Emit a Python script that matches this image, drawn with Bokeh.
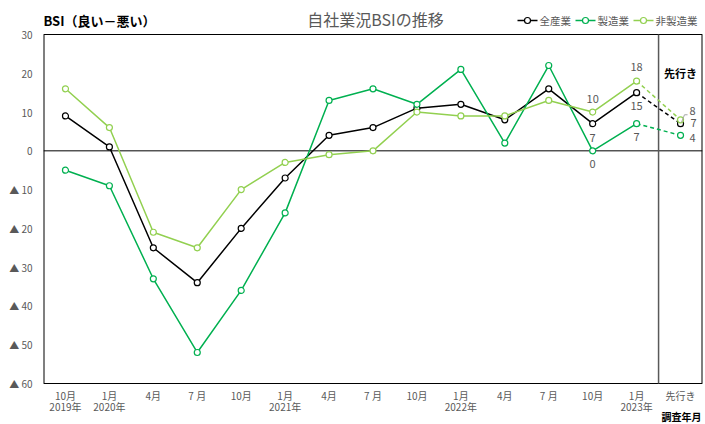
from bokeh.plotting import figure
from bokeh.models import Range1d, FixedTicker, Label, ColumnDataSource
from bokeh.core.properties import value
from bokeh.embed import file_html
from bokeh.resources import INLINE

# Survey periods (month line / year line)
months = ["10月", "1月", "4月", "7 月", "10月", "1月", "4月", "7 月",
          "10月", "1月", "4月", "7 月", "10月", "1月", "先行き"]
years = ["2019年", "2020年", "", "", "", "2021年", "", "",
         "", "2022年", "", "", "", "2023年", ""]

# BSI values (good minus bad)
all_ind = [9, 1, -25, -34, -20, -7, 4, 6, 11, 12, 8, 16, 7, 15, 7]
mfg = [-5, -9, -33, -52, -36, -16, 13, 16, 12, 21, 2, 22, 0, 7, 4]
non_mfg = [16, 6, -21, -25, -10, -3, -1, 0, 10, 9, 9, 13, 10, 18, 8]

y_ticks = [30, 20, 10, 0, -10, -20, -30, -40, -50, -60]
Y_MIN, Y_MAX = -60, 30

names = ["全産業", "製造業", "非製造業"]
colors = ["#000000", "#00b050", "#92d050"]
series = [all_ind, mfg, non_mfg]

FONT = "Noto Sans CJK JP"
GRAY = "#595959"

W, H = 705, 424
LEFT, RIGHT_PAD = 43, 3
PLOT_TOP, PLOT_BOTTOM = 34, 383        # canvas rows of the value axis ends
k = (Y_MAX - Y_MIN) / (PLOT_BOTTOM - PLOT_TOP)

n = len(months)
xs = list(range(n))
last = n - 1

# The frame spans the full canvas height so that heading, legend and the
# period labels are all drawn inside it; the value range is stretched so that
# 30 and -60 land on PLOT_TOP and PLOT_BOTTOM.
p = figure(width=W, height=H, output_backend="svg", toolbar_location=None,
           x_range=Range1d(-0.5, n - 0.5),
           y_range=Range1d(Y_MIN - (H - PLOT_BOTTOM) * k, Y_MAX + PLOT_TOP * k),
           min_border_left=LEFT, min_border_right=RIGHT_PAD, min_border_top=0,
           min_border_bottom=0)
p.grid.visible = False
p.outline_line_color = None
p.xaxis.visible = False

# pixel rows (canvas y measured from the bottom)
p.extra_x_ranges = {"px": Range1d(LEFT, W - RIGHT_PAD)}
p.extra_y_ranges = {"px": Range1d(0, H)}

def px_y(canvas_y):
    return H - canvas_y

# value axis
p.yaxis.ticker = FixedTicker(ticks=y_ticks)
p.yaxis.major_label_overrides = {t: (str(t) if t >= 0 else "▲ " + str(-t)) for t in y_ticks}
p.yaxis.axis_line_color = None
p.yaxis.major_tick_line_color = None
p.yaxis.minor_tick_line_color = None
p.yaxis.major_label_text_font = FONT
p.yaxis.major_label_text_font_size = "10px"
p.yaxis.major_label_text_color = GRAY
p.yaxis.major_label_standoff = 5

# period labels: month row and year row
p.text(x=xs, y=[px_y(395)] * n, text=months, text_font=value(FONT),
       text_font_size="10px", text_color=GRAY, text_align="center",
       text_baseline="middle", y_range_name="px")
yr_x = [i for i, yr in enumerate(years) if yr]
p.text(x=yr_x, y=[px_y(406)] * len(yr_x), text=[years[i] for i in yr_x],
       text_font=value(FONT), text_font_size="10px", text_color=GRAY,
       text_align="center", text_baseline="middle", y_range_name="px")

# plot border: left/right on the frame boundary, top/bottom inside it
p.multi_line(xs=[[-0.5, -0.5], [n - 0.5, n - 0.5]], ys=[[Y_MIN, Y_MAX], [Y_MIN, Y_MAX]],
             line_color="#000000", line_width=2)
p.multi_line(xs=[[-0.5, n - 0.5], [-0.5, n - 0.5]], ys=[[Y_MAX, Y_MAX], [Y_MIN, Y_MIN]],
             line_color="#000000", line_width=1)

# zero line and the forecast divider
p.line(x=[-0.5, n - 0.5], y=[0, 0], line_color="#000000", line_width=1)
p.line(x=[last - 0.5, last - 0.5], y=[Y_MIN, Y_MAX], line_color=GRAY, line_width=1.5)

for name, col, vals in zip(names, colors, series):
    actual = ColumnDataSource(dict(x=xs[:last], y=vals[:last]))
    fc = ColumnDataSource(dict(x=xs[last - 1:], y=vals[last - 1:]))
    p.line("x", "y", source=actual, line_color=col, line_width=1.5)
    p.line("x", "y", source=fc, line_color=col, line_width=1.5, line_dash="4 3")
    p.scatter("x", "y", source=ColumnDataSource(dict(x=xs, y=vals)), size=6,
              marker="circle", fill_color="white", line_color=col, line_width=1.2)

# value labels for the latest periods
def vlabel(x, y, dx, dy, align="center"):
    p.add_layout(Label(x=x, y=y, x_offset=dx, y_offset=dy, text=str(y),
                       text_font=FONT, text_font_size="11px", text_color=GRAY,
                       text_align=align, text_baseline="middle"))

vlabel(12, non_mfg[12], 0, 13)
vlabel(12, all_ind[12], 0, -14)
vlabel(12, mfg[12], 0, -13)
vlabel(13, non_mfg[13], 0, 14)
vlabel(13, all_ind[13], 0, -13)
vlabel(13, mfg[13], 0, -13)
vlabel(last, non_mfg[last], 9, 9, align="left")
vlabel(last, all_ind[last], 10, 1, align="left")
vlabel(last, mfg[last], 9, -3, align="left")

# leader from the non-manufacturing forecast point to its label
p.line(x=[last + 0.02, last + 0.09, last + 0.16],
       y=[non_mfg[last] - 0.7, non_mfg[last] + 1.3, non_mfg[last] + 1.3],
       line_color="#a6a6a6", line_width=1)

p.add_layout(Label(x=last, y=20, text="先行き", text_font=FONT,
                   text_font_size="11px", text_font_style="bold", text_color="#000000",
                   text_align="center", text_baseline="middle"))

# heading, unit caption and legend in pixel coordinates
p.text(x=[375], y=[px_y(18)], text=["自社業況BSIの推移"], text_font=value(FONT),
       text_font_size="16px", text_color=GRAY, text_align="center",
       text_baseline="middle", x_range_name="px", y_range_name="px")
p.text(x=[LEFT], y=[px_y(20)], text=["BSI（良い－悪い）"], text_font=value(FONT),
       text_font_size="13px", text_font_style="bold", text_color="#000000",
       text_align="left", text_baseline="middle", x_range_name="px", y_range_name="px")

legend_x = [517, 575, 633]
ly = px_y(20)
for x0, name, col in zip(legend_x, names, colors):
    p.line(x=[x0, x0 + 20], y=[ly, ly], line_color=col, line_width=1.5,
           x_range_name="px", y_range_name="px")
    p.scatter(x=[x0 + 10], y=[ly], size=6, marker="circle", fill_color="white",
              line_color=col, line_width=1.2, x_range_name="px", y_range_name="px")
    p.text(x=[x0 + 22], y=[ly], text=[name], text_font=value(FONT),
           text_font_size="10.5px", text_color=GRAY, text_align="left",
           text_baseline="middle", x_range_name="px", y_range_name="px")

# axis caption at the lower right
p.text(x=[W - RIGHT_PAD - 1], y=[px_y(416)], text=["調査年月"], text_font=value(FONT),
       text_font_size="10px", text_font_style="bold", text_color="#000000",
       text_align="right", text_baseline="middle", x_range_name="px", y_range_name="px")

open("out.html", "w").write(file_html(p, INLINE))
